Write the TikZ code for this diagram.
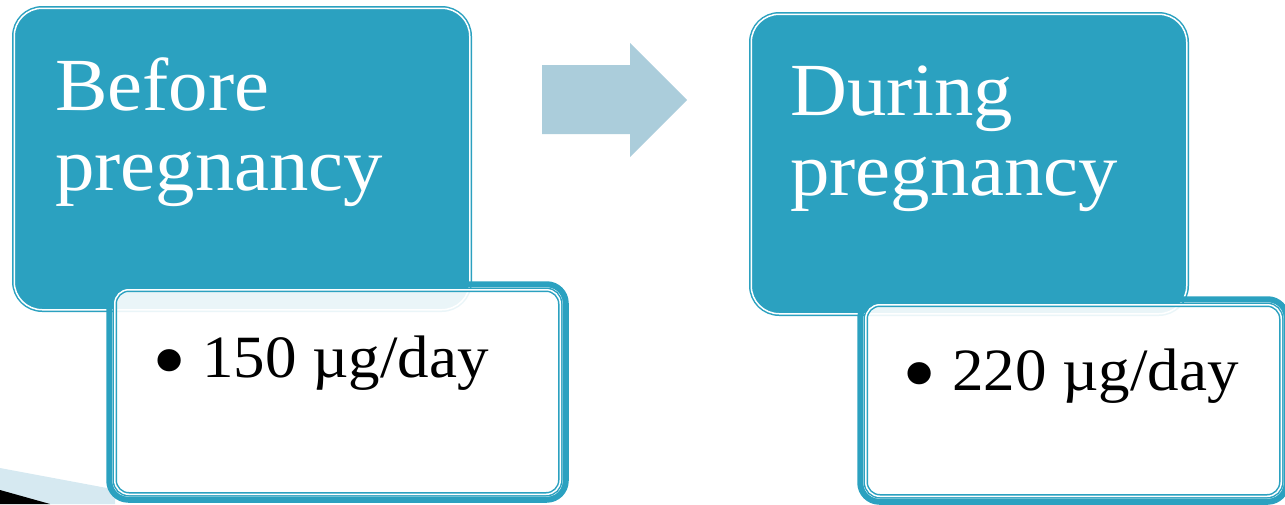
\documentclass[tikz,border=0pt]{standalone}
\usepackage{fontspec}
\usepackage{graphicx}
\setmainfont{Liberation Serif}[FakeStretch=1.05]
\definecolor{tealc}{HTML}{2BA1C0}
\definecolor{arrowc}{HTML}{ABCDDB}
\definecolor{bandc}{HTML}{D6E9F1}
\newcommand{\bigbul}{\raisebox{-14pt}{\scalebox{1.55}{\textbullet}}}
\begin{document}
\begin{tikzpicture}[x=1pt,y=-1pt,
  tealbox/.style={rectangle, rounded corners=28pt, fill=tealc, draw=tealc, double=white,
    line width=1.5pt, double distance=1.5pt, inner sep=0pt},
  whitebox/.style={rectangle, rounded corners=14pt, fill=white, fill opacity=0.9, draw=tealc,
    double=white, line width=1.5pt, double distance=1.5pt, inner sep=0pt},
  rim/.style={draw=tealc, line width=6pt, rounded corners=19pt},
  title/.style={anchor=base west, inner sep=0pt, text=white, font=\fontsize{75}{80}\selectfont},
  amount/.style={anchor=base west, inner sep=0pt, text=black, font=\fontsize{60}{70}\selectfont}]
\useasboundingbox (0,0) rectangle (1285,504);
\clip (0,0) rectangle (1285,504);
% slide decoration, bottom left
\fill[bandc] (0,468) -- (115,489.5) -- (115,504) -- (0,504) -- cycle;
\fill[black] (0,490) -- (50,504) -- (0,504) -- cycle;
% left pair
\node[tealbox, minimum width=455.5pt, minimum height=301.5pt] (before) at (242,159) {};
\node[whitebox, minimum width=445.5pt, minimum height=204.5pt] (wb1) at (337.5,392) {};
\draw[rim] ([shift={(-4.75,-4.75)}]wb1.north west) rectangle ([shift={(4.75,4.75)}]wb1.south east);
% arrow
\fill[arrowc] (542,65) -- (630,65) -- (630,43) -- (687,100) -- (630,157) -- (630,134) -- (542,134) -- cycle;
% right pair
\node[tealbox, minimum width=435.5pt, minimum height=299.5pt] (during) at (969,164) {};
\node[whitebox, minimum width=415.5pt, minimum height=191.5pt] (wb2) at (1073.5,400.5) {};
\draw[rim] ([shift={(-4.75,-4.75)}]wb2.north west) rectangle ([shift={(4.75,4.75)}]wb2.south east);
% texts
\node[title] (t1a) at (55,110) {Before};
\node[title] (t1b) at (55,190) {pregnancy};
\node[title] (t2a) at (790,115) {During};
\node[title] (t2b) at (790,195) {pregnancy};
\node[amount] (a1) at (152,377) {\bigbul\hspace{16pt}150 µg/day};
\node[amount] (a2) at (902,390) {\bigbul\hspace{16pt}220 µg/day};
\end{tikzpicture}
\end{document}
